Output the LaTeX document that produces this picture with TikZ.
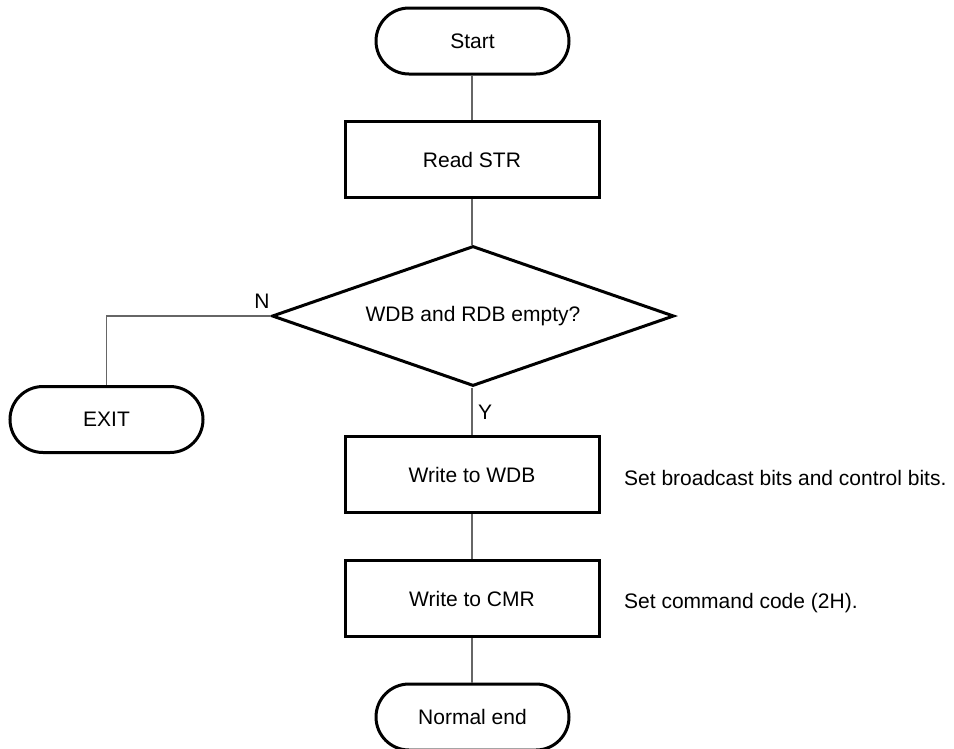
\documentclass[tikz,border=0pt]{standalone}
\usepackage{fontspec}
\setmainfont{Liberation Sans}
\usetikzlibrary{shapes.geometric}
\begin{document}
\begin{tikzpicture}[x=1pt,y=-1pt,
  every node/.style={font=\fontsize{21}{25}\selectfont, inner sep=0pt},
  terminal/.style={draw=black, line width=3pt, rectangle, rounded corners=33pt, minimum width=193pt, minimum height=66pt},
  procbox/.style={draw=black, line width=3pt, rectangle, minimum width=254pt, minimum height=76pt},
  decision/.style={draw=black, line width=3pt, diamond, shape aspect=2.87, minimum width=402pt, minimum height=140pt},
  conn/.style={draw=black!60, line width=1.3pt},
  note/.style={anchor=base west}]
\useasboundingbox[fill=white] (0,0) rectangle (954,748);
\node[terminal] (start) at (472.5,41) {Start};
\node[procbox] (read) at (472,159.5) {Read STR};
\node[decision] (dec) at (473,316) {WDB and RDB empty?};
\node[terminal] (exit) at (106.5,419.5) {EXIT};
\node[procbox] (wdb) at (472,474.5) {Write to WDB};
\node[procbox] (cmr) at (472,598.5) {Write to CMR};
\node[terminal] (nend) at (472.5,717) {Normal end};
\coordinate (corner) at (106.5,316);
\draw[conn] (start.south -| read.north) -- (read.north);
\draw[conn] (read.south) -- (read.south |- dec.north);
\draw[conn] (dec.south -| wdb.north) -- (wdb.north);
\draw[conn] (wdb.south) -- (cmr.north);
\draw[conn] (cmr.south) -- (cmr.south |- nend.north);
\draw[conn] (dec.west) -- (corner) -- (exit.north);
\node (nlab) at (262,301) {N};
\node (ylab) at (485,412) {Y};
\node[note] (note1) at (624,485) {Set broadcast bits and control bits.};
\node[note] (note2) at (624,608) {Set command code (2H).};
\end{tikzpicture}
\end{document}
